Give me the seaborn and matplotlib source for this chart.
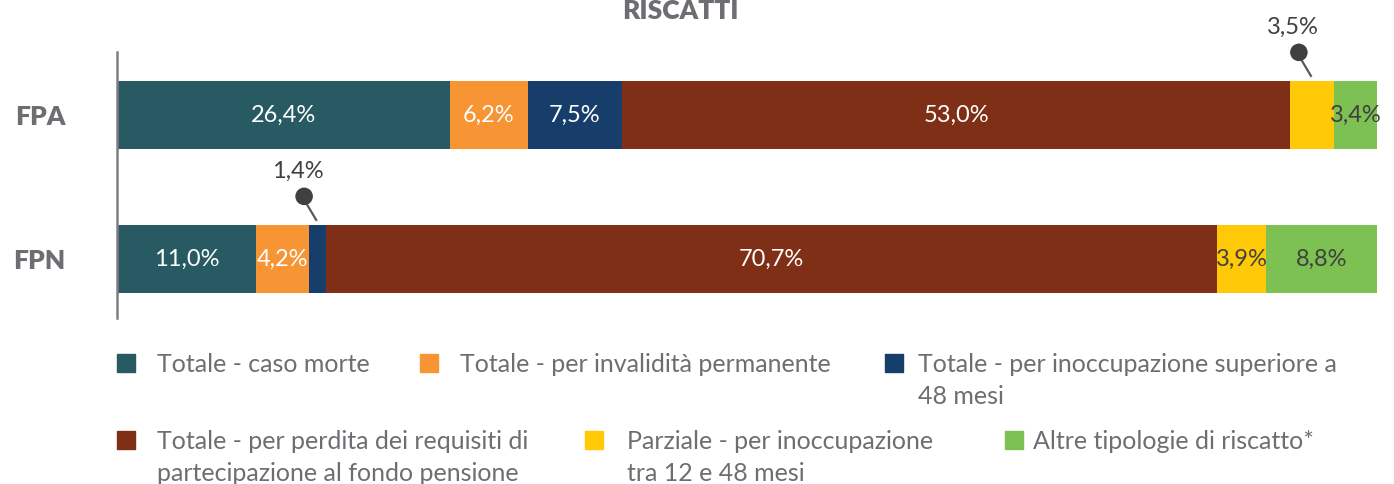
import matplotlib
matplotlib.use("Agg")
import matplotlib.pyplot as plt
import matplotlib.patches as mpatches
import seaborn as sns
import numpy as np

# ---- data ----
categories = ["FPA", "FPN"]
series_names = [
    "Totale - caso morte",
    "Totale - per invalidità permanente",
    "Totale - per inoccupazione superiore a\n48 mesi",
    "Totale - per perdita dei requisiti di\npartecipazione al fondo pensione",
    "Parziale - per inoccupazione\ntra 12 e 48 mesi",
    "Altre tipologie di riscatto*",
]
fpa_values = [26.4, 6.2, 7.5, 53.0, 3.5, 3.4]
fpn_values = [11.0, 4.2, 1.4, 70.7, 3.9, 8.8]
title = "RISCATTI"

colors = ["#285a64", "#f79433", "#173e6a", "#7f2f16", "#ffc907", "#7dc152"]
label_colors = ["white", "white", "white", "white", "#404040", "#404040"]
callouts = {("FPA", 4), ("FPN", 2)}  # segments labelled outside with a pin

sns.set_theme(style="white")
plt.rcParams["font.family"] = ["Lato", "DejaVu Sans"]

W, H = 1394, 484
fig = plt.figure(figsize=(W / 100, H / 100), dpi=100)
ax = fig.add_axes([117 / W, 1 - 318 / H, 1260 / W, (318 - 52) / H])

values = np.array([fpa_values, fpn_values])
cum = np.cumsum(values, axis=1)

# stacked bars: draw cumulative totals from largest to smallest
for i in reversed(range(len(series_names))):
    sns.barplot(x=cum[:, i], y=categories, color=colors[i], orient="h",
                width=0.47, saturation=1, ax=ax, edgecolor="none", linewidth=0)

ax.set_xlim(0, 100)
ax.set_ylim(1.4097, -0.4375)

LBL = 17
# labels
for r, cat in enumerate(categories):
    for i in range(len(series_names)):
        v = values[r, i]
        xc = cum[r, i] - v / 2
        txt = f"{v:.1f}".replace(".", ",") + "%"
        if (cat, i) in callouts:
            y_top = r - 0.235
            ax.plot([xc - 0.05, xc - 1.0], [y_top - 0.03, y_top - 0.17],
                    color="#595959", lw=1.6, solid_capstyle="butt", zorder=5)
            ax.scatter([xc - 1.05], [y_top - 0.2], s=160, color="#404040",
                       zorder=6, edgecolors="none", clip_on=False)
            ax.text(xc - 1.55, y_top - 0.375, txt, ha="center", va="center",
                    fontsize=LBL, color="#404040", clip_on=False)
        else:
            ax.text(xc, r, txt, ha="center", va="center", fontsize=LBL,
                    color=label_colors[i])

# axes styling
for s in ["top", "right", "bottom"]:
    ax.spines[s].set_visible(False)
ax.spines["left"].set_color("#7f7f7f")
ax.spines["left"].set_linewidth(1.8)
ax.set_xticks([])
ax.set_xlabel("")
ax.set_ylabel("")
ax.tick_params(axis="y", length=0, pad=37)
for lbl in ax.get_yticklabels():
    lbl.set_fontweight("heavy")
    lbl.set_fontsize(19)
    lbl.set_color("#6d6e71")
    lbl.set_horizontalalignment("right")
ax.grid(False)

fig.text(680 / W, 1 - 11 / H, title, ha="center", va="center", fontsize=19,
         fontweight="heavy", color="#6d6e71")

# legend (flowing layout as in the reference)
leg_pos = [
    (117, 363, 157), (420, 363, 460), (885, 363, 918),
    (117, 440, 157), (585, 440, 627), (1005, 440, 1033),
]
sq = 18
for (sx, sy, tx), name, c in zip(leg_pos, series_names, colors):
    fig.patches.append(mpatches.Rectangle((sx / W, 1 - (sy + sq / 2) / H), sq / W, sq / H,
                                          transform=fig.transFigure, color=c, figure=fig))
    fig.text(tx / W, 1 - (sy - 10) / H, name, ha="left", va="top", fontsize=18,
             color="#6d6e71", linespacing=1.45)

fig.savefig("out.png", dpi=100)
